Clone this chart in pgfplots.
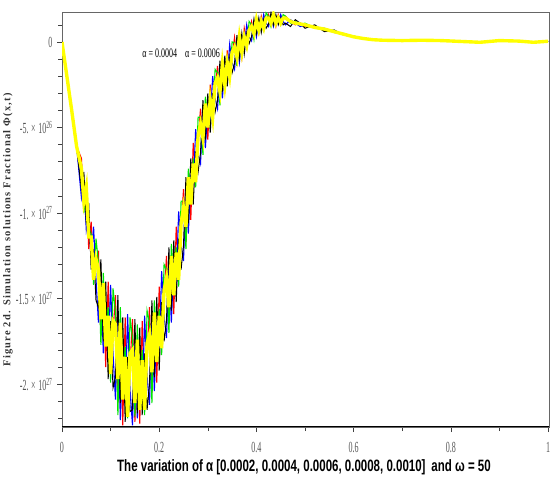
\documentclass[border=0pt]{standalone}
\usepackage{fontspec}
\setmainfont{Liberation Serif}
\newfontfamily\tickfont[FakeStretch=0.52]{Liberation Serif}
\newfontfamily\annfont[FakeStretch=0.62]{Liberation Serif}
\newfontfamily\xlabfont[FakeStretch=0.70]{Liberation Sans}
\newfontfamily\ylabfont[LetterSpace=12]{Liberation Serif}
\usepackage{pgfplots}
\usepackage{pgfplotstable}
\pgfplotsset{compat=1.18}
\definecolor{cred}{RGB}{255,0,0}
\definecolor{cblue}{RGB}{0,0,255}
\definecolor{cgreen}{RGB}{0,230,0}
\definecolor{cyellow}{RGB}{255,255,0}
\definecolor{tickgray}{RGB}{85,85,85}

% y values in units of 1e26
\pgfplotstableread{
x red blue green black yellow
0.000 0 0 0 0 0
0.010 -2.0 -2.0 -2.0 -2.0 -2.0
0.020 -4.0 -4.0 -4.0 -4.0 -4.0
0.030 -6.1 -6.1 -6.1 -6.1 -6.1
0.040 -6.8 -9.1 -7.2 -8.6 -7.4
0.045 -9.8 -8.1 -10.0 -7.6 -9.3
0.050 -8.8 -11.0 -8.2 -10.6 -8.5
0.055 -12.1 -10.2 -10.9 -9.4 -11.4
0.060 -10.5 -12.7 -11.2 -13.3 -11.4
0.065 -13.3 -10.8 -14.2 -12.1 -13.9
0.070 -13.1 -13.9 -11.5 -15.1 -12.7
0.075 -12.2 -16.4 -12.9 -15.5 -13.3
0.080 -17.2 -13.7 -17.7 -12.7 -16.2
0.085 -14.5 -18.2 -13.5 -17.5 -14.1
0.090 -19.0 -15.4 -16.8 -14.0 -17.8
0.095 -14.0 -18.5 -15.5 -19.7 -16.0
0.100 -18.4 -14.2 -19.9 -16.3 -19.4
0.105 -17.0 -18.2 -14.4 -20.2 -16.3
0.110 -14.8 -20.9 -15.8 -19.6 -16.5
0.115 -21.1 -16.2 -21.8 -14.8 -19.7
0.120 -16.9 -22.1 -15.5 -21.1 -16.4
0.125 -22.4 -17.9 -19.6 -16.1 -20.9
0.130 -16.1 -21.3 -17.8 -22.2 -18.4
0.135 -20.8 -15.9 -22.0 -18.4 -21.9
0.140 -18.9 -20.3 -16.1 -21.6 -18.2
0.145 -16.2 -22.4 -17.3 -21.5 -18.0
0.150 -22.2 -17.6 -21.9 -16.2 -21.1
0.155 -17.9 -22.0 -16.5 -21.7 -17.4
0.160 -22.3 -18.5 -20.2 -16.7 -21.5
0.165 -16.3 -21.5 -18.0 -21.8 -18.6
0.170 -20.5 -16.0 -21.8 -18.2 -21.5
0.175 -18.3 -19.5 -15.7 -21.5 -17.6
0.180 -15.5 -21.2 -16.4 -20.0 -17.1
0.185 -20.5 -16.3 -21.1 -15.1 -19.3
0.190 -16.2 -20.4 -15.1 -19.6 -15.8
0.195 -19.9 -16.3 -17.7 -14.9 -18.7
0.200 -14.3 -18.2 -15.6 -19.2 -16.0
0.205 -17.0 -13.4 -18.3 -15.2 -17.9
0.210 -15.0 -16.0 -13.0 -17.5 -14.5
0.215 -12.5 -17.3 -13.3 -16.3 -13.8
0.220 -16.5 -13.0 -17.0 -12.0 -15.5
0.225 -12.8 -16.4 -11.8 -15.7 -12.5
0.230 -15.9 -12.8 -14.0 -11.6 -14.8
0.235 -10.8 -14.3 -12.0 -15.2 -12.3
0.240 -13.1 -9.9 -14.3 -11.5 -13.9
0.245 -11.1 -11.9 -9.3 -13.3 -10.6
0.250 -8.6 -12.8 -9.3 -11.9 -9.7
0.255 -11.7 -8.7 -12.1 -7.9 -10.8
0.260 -8.2 -11.2 -7.4 -10.6 -7.9
0.265 -10.4 -7.8 -8.8 -6.8 -9.5
0.270 -5.9 -8.7 -6.8 -9.5 -7.1
0.275 -7.6 -5.1 -8.5 -6.4 -8.2
0.280 -5.8 -6.6 -4.4 -7.6 -5.5
0.285 -3.9 -7.1 -4.4 -6.5 -4.8
0.290 -6.3 -4.0 -6.6 -3.4 -5.6
0.295 -3.8 -6.2 -3.2 -5.7 -3.6
0.300 -5.7 -3.8 -4.5 -3.0 -5.0
0.305 -2.5 -4.7 -3.2 -5.3 -3.4
0.310 -4.0 -2.0 -4.7 -3.0 -4.4
0.315 -2.7 -3.3 -1.6 -4.1 -2.4
0.320 -1.4 -3.9 -1.8 -3.4 -2.1
0.325 -3.4 -1.6 -3.7 -1.1 -2.9
0.330 -1.5 -3.3 -1.0 -2.9 -1.3
0.335 -3.0 -1.4 -2.0 -0.8 -2.5
0.340 -0.5 -2.2 -1.1 -2.6 -1.2
0.345 -1.7 -0.15 -2.2 -0.9 -2.0
0.350 -0.8 -1.2 0.0 -1.8 -0.6
0.355 0.25 -1.6 -0.05 -1.25 -0.3
0.360 -1.2 0.04 -1.4 0.4 -0.9
0.365 0.15 -1.2 0.5 -0.9 0.3
0.370 -0.9 0.14 -0.3 0.5 -0.6
0.375 0.8 -0.4 0.4 -0.7 0.3
0.380 0.02 1.0 -0.3 0.5 -0.2
0.385 0.6 0.3 1.2 -0.1 0.7
0.390 1.2 0.06 1.0 0.3 0.9
0.395 0.3 1.1 0.15 1.35 0.5
0.400 1.2 0.3 1.4 0.5 1.3
0.405 0.5 1.1 0.9 1.4 0.7
0.410 1.5 0.75 1.25 0.55 1.2
0.415 0.9 1.6 0.7 1.3 0.8
0.420 1.3 1.1 1.7 0.8 1.4
0.425 1.6 0.9 1.5 1.05 1.4
0.430 1.0 1.5 0.9 1.7 1.1
0.435 1.5 0.9 1.7 1.0 1.6
0.440 0.9 1.4 1.2 1.6 1.1
0.445 1.6 1.1 1.4 1.0 1.4
0.450 1.2 1.6 1.0 1.4 1.1
0.455 1.3 1.2 1.6 1.0 1.4
0.460 1.5 1.0 1.5 1.1 1.4
0.470 1.2 1.3 1.1 0.9 1.2
0.480 1.0 1.1 1.2 1.3 1.1
0.490 1.1 0.9 1.0 1.1 1.05
0.500 0.9 1.0 1.1 0.8 1.0
0.520 0.9 0.8 0.8 1.0 0.85
0.540 0.7 0.8 0.75 0.6 0.75
0.560 0.6 0.55 0.65 0.7 0.6
0.580 0.45 0.5 0.4 0.4 0.45
0.600 0.3 0.3 0.35 0.3 0.3
0.620 0.2 0.2 0.2 0.2 0.2
0.640 0.13 0.13 0.13 0.13 0.13
0.660 0.1 0.1 0.1 0.1 0.1
0.700 0.08 0.08 0.08 0.08 0.08
0.740 0.1 0.1 0.1 0.1 0.1
0.780 0.08 0.08 0.08 0.08 0.08
0.820 0.03 0.03 0.03 0.03 0.03
0.860 -0.02 -0.02 -0.02 -0.02 -0.02
0.900 0.08 0.08 0.08 0.08 0.08
0.940 0.05 0.05 0.05 0.05 0.05
0.970 -0.02 -0.02 -0.02 -0.02 -0.02
1.000 0.04 0.04 0.04 0.04 0.04
}\phidata

\begin{document}
\begin{tikzpicture}
\path[use as bounding box] (-62bp,-53bp) rectangle (488bp,427bp);
\begin{axis}[
  at={(0,0)}, anchor=south west,
  scale only axis, width=487bp, height=415bp,
  xmin=0, xmax=1.002, ymin=-22.5, ymax=1.75,
  axis line style={draw=gray!80!black, line width=0.8pt},
  xtick={0,0.2,0.4,0.6,0.8,1},
  xticklabels={0,0.2,0.4,0.6,0.8,1},
  minor xtick={0.1,0.3,0.5,0.7,0.9},
  ytick={-20,-15,-10,-5,0},
  yticklabels={{-2.\,×\,10\textsuperscript{27}},{-1.5\,×\,10\textsuperscript{27}},{-1.\,×\,10\textsuperscript{27}},{-5.\,×\,10\textsuperscript{26}},0},
  minor ytick={-22,-21,...,1},
  xtick pos=left, ytick pos=left,
  tick align=outside,
  major tick length=5bp, minor tick length=4bp,
  tick style={black!75, line width=0.6pt},
  tick label style={font=\tickfont\fontsize{15.5}{15.5}\selectfont, text=tickgray},
  xticklabel style={yshift=-7bp},
  yticklabel style={xshift=-1bp},
]
\addplot[cred, line width=1.1pt] table[x=x, y=red] {\phidata};
\addplot[cblue, line width=1.1pt] table[x=x, y=blue] {\phidata};
\addplot[cgreen, line width=1.1pt] table[x=x, y=green] {\phidata};
\addplot[black, line width=1.0pt] table[x=x, y=black] {\phidata};
\addplot[cyellow, line width=3.4pt] table[x=x, y=yellow] {\phidata};
\draw[black, line width=1.4pt] (rel axis cs:0,0) -- (rel axis cs:1,0);
\node[anchor=west, font=\annfont\fontsize{13}{13}\selectfont] at (axis cs:0.158,-0.64) {α = 0.0004\hspace{8bp}α = 0.0006};
\end{axis}
\node[font=\xlabfont\bfseries\fontsize{16.5}{16.5}\selectfont] at (242bp,-40bp) {The variation of α [0.0002, 0.0004, 0.0006, 0.0008, 0.0010]\, and ω = 50};
\node[rotate=90, font=\ylabfont\bfseries\fontsize{10.5}{10.5}\selectfont, text=black!80] at (-54bp,197bp) {Figure 2d. Simulation solutions Fractional Φ(x,t)};
\end{tikzpicture}
\end{document}
